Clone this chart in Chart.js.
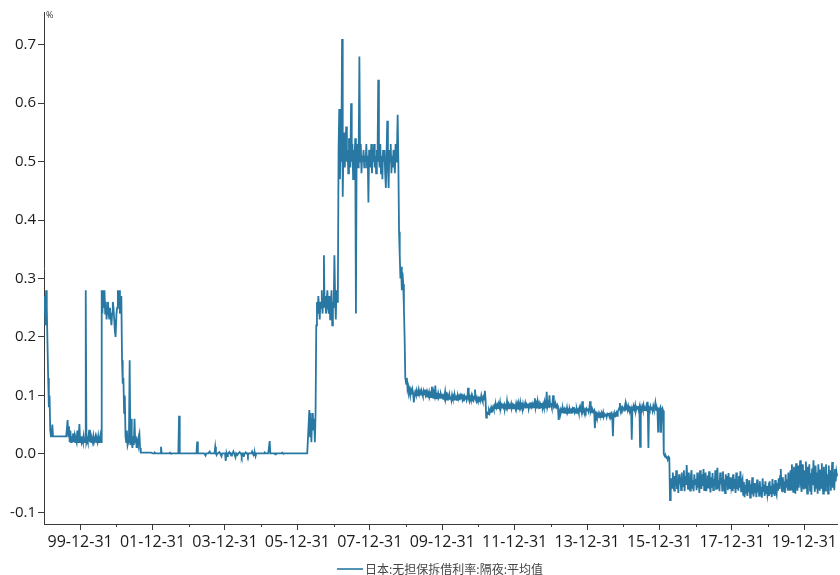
<!DOCTYPE html>
<html><head><meta charset="utf-8">
<script src="https://cdn.jsdelivr.net/npm/chart.js@4.4.1/dist/chart.umd.min.js"></script>
<style>html,body{margin:0;padding:0;background:#fff;}canvas{display:block;}</style>
</head><body>
<canvas id="c" width="840" height="575"></canvas>
<script>
const seriesLabel = '日本:无担保拆借利率:隔夜:平均值';
const unitLabel = '%';
// weekly observations, one array per calendar year (first value = first week of the year)
const rate1999 = [0.24,0.27,0.22,0.28,0.25,0.19,0.13,0.08,0.10,
 0.04,0.03,0.03,0.05,0.03,0.03,0.03,0.03,0.03,0.03,0.03,0.03,0.03,0.03,0.03,0.03,0.03,0.03,0.03,0.03,0.03,0.03,0.03,0.03,0.03,
 0.058,0.03,0.047,0.02,0.04,0.02,0.03,0.02,0.035,0.02,0.03,0.02,0.025,0.02,0.04,0.02,0.03,0.051];
const rate2000 = [0.02,0.03,0.02,0.025,0.02,0.03,0.02,0.02,0.28,
 0.02,0.025,0.02,0.03,0.041,0.02,0.03,0.02,0.025,0.02,0.03,0.02,0.02,0.03,0.02,0.025,0.02,0.03,0.02,0.02,0.03,0.02,
 0.28,0.24,0.28,0.25,0.28,0.24,0.26,0.23,0.25,0.26,0.24,0.23,0.25,0.25,0.22,0.24,0.26,0.25,0.23,0.21,0.20];
const rate2001 = [0.24,0.25,0.28,0.26,0.28,0.24,0.26,0.27,
 0.16,0.12,0.13,0.07,0.10,0.03,0.02,0.04,0.015,0.02,0.03,0.16,
 0.015,0.06,0.02,0.01,0.03,0.015,0.06,0.02,0.03,0.01,0.02,0.015,0.03,0.035,0.01,
 0.002,0.002,0.002,0.002,0.002,0.002,0.002,0.002,0.002,0.002,0.002,0.002,0.002,0.002,0.002,0.002,0.002];
const rate2002 = [0.001,0.001,0.001,0.002,0.001,0.001,0.001,0.001,0.001,0.001,0.001,0.001,0.012,0.001,0.001,0.001,0.001,0.001,0.001,0.001,
 0.001,0.001,0.001,0.001,0.001,0.002,0.001,0.001,0.001,0.001,0.001,0.001,0.001,0.001,0.001,0.001,0.001,0.001,0.065,0.001,
 0.001,0.001,0.001,0.001,0.001,0.001,0.001,0.001,0.001,0.001,0.001,0.001];
const rate2003 = [0.001,0.001,0.001,0.001,0.001,0.001,0.001,0.001,0.001,0.001,0.001,0.001,0.021,0.001,0.001,0.001,0.001,0.001,0.001,0.001,
 0.001,0.001,0.001,0.001,-0.003,0.001,0.001,0.001,0.001,0.001,0.004,0.001,0.001,0.001,0.001,0.001,0.001,0.001,0.012,0.001,
 -0.002,0.001,0.001,0.001,0.003,0.001,0.001,-0.004,0.001,0.001,0.001,0.001];
const rate2004 = [0.001,-0.012,0.001,-0.004,0.001,0.001,0.003,0.001,0.001,-0.003,0.001,0.001,0.004,0.001,0.001,-0.006,0.001,0.001,-0.002,0.001,
 0.001,0.003,0.001,0.001,-0.004,0.001,0.001,-0.005,0.001,0.001,0.002,0.001,0.001,-0.003,0.001,0.001,0.001,0.001,0.001,0.004,
 0.001,0.001,-0.002,0.001,-0.004,0.001,0.001,0.001,0.001,0.001,0.001,0.001];
const rate2005 = [0.001,0.001,0.001,0.001,0.001,0.002,0.001,0.001,0.001,0.001,0.001,0.001,0.022,0.001,0.001,0.001,0.001,0.001,0.001,0.001,
 -0.001,0.001,0.001,0.001,0.001,0.001,0.001,0.001,0.001,0.001,0.002,0.001,0.001,0.001,0.001,0.001,0.001,0.001,0.001,0.001,
 0.001,0.001,0.001,0.001,0.001,0.001,0.001,0.001,0.001,0.001,0.001,0.001];
const rate2006 = [0.001,0.001,0.001,0.001,0.001,0.001,0.001,0.001,0.001,0.001,0.001,0.001,0.001,0.001,0.001,0.001,
 0.05,0.075,0.03,0.07,0.02,0.06,0.07,0.04,0.06,0.02,0.07,
 0.22,0.26,0.24,0.27,0.25,0.23,0.26,0.25,0.28,0.24,0.26,0.34,0.25,0.27,0.24,0.26,0.28,0.25,0.24,0.27,0.23,0.25,0.28,0.22,0.26];
const rate2007 = [0.25,0.34,0.27,0.23,0.28,0.26,0.27,
 0.52,0.59,0.47,0.53,0.50,0.71,0.44,0.52,0.55,0.49,0.53,0.56,0.50,0.52,0.48,0.54,0.51,0.49,0.60,0.50,0.53,0.47,0.52,0.50,
 0.54,0.24,0.51,0.53,0.49,0.52,0.68,0.50,0.53,0.48,0.51,0.50,0.52,0.49,0.51,0.50,0.53,0.49,0.51,0.43,0.52];
const rate2008 = [0.51,0.49,0.53,0.48,0.52,0.50,0.53,0.49,0.51,0.48,0.52,0.50,0.64,0.51,0.49,0.53,0.48,0.51,0.47,0.52,
 0.50,0.52,0.48,0.455,0.51,0.57,0.49,0.455,0.52,0.50,0.53,0.48,0.51,0.49,0.52,0.51,0.48,0.53,0.50,0.52,0.58,0.50,
 0.38,0.34,0.30,0.32,0.28,0.31,0.29,0.25,0.20,0.13];
const rate2009 = [0.12,0.13,0.11,0.115,0.105,0.11,0.10,0.108,0.102,0.11,0.104,0.088,0.10,0.106,0.102,0.108,0.10,0.104,0.11,0.102,
 0.106,0.10,0.108,0.103,0.099,0.107,0.102,0.11,0.101,0.105,0.098,0.104,0.10,0.106,0.099,0.103,0.097,0.115,0.10,0.096,
 0.104,0.099,0.117,0.095,0.101,0.098,0.104,0.097,0.10,0.096,0.102,0.098];
const rate2010 = [0.1,0.094,0.103,0.097,0.106,0.095,0.1,0.093,0.099,0.096,0.102,0.094,0.098,0.092,0.101,0.096,0.099,0.093,0.1,0.095,
 0.097,0.091,0.1,0.094,0.098,0.092,0.099,0.095,0.103,0.093,0.097,0.09,0.098,0.094,0.1,0.092,0.096,0.113,0.094,0.09,
 0.097,0.093,0.099,0.091,0.096,0.092,0.098,0.11,0.093,0.09,0.096,0.092];
const rate2011 = [0.095,0.09,0.098,0.092,0.1,0.094,0.09,0.097,0.093,0.108,0.095,0.062,0.066,0.07,0.068,0.074,0.07,0.076,0.072,0.078,
 0.075,0.08,0.076,0.082,0.078,0.084,0.079,0.083,0.077,0.085,0.08,0.088,0.078,0.083,0.079,0.086,0.08,0.084,0.077,0.082,
 0.079,0.09,0.08,0.084,0.078,0.083,0.081,0.086,0.079,0.083,0.078,0.084];
const rate2012 = [0.083,0.078,0.086,0.08,0.085,0.077,0.084,0.079,0.088,0.08,0.083,0.076,0.085,0.079,0.082,0.087,0.078,0.084,0.08,0.086,
 0.077,0.083,0.079,0.088,0.081,0.085,0.078,0.084,0.08,0.095,0.079,0.085,0.078,0.09,0.082,0.086,0.077,0.084,0.08,0.087,
 0.078,0.085,0.08,0.088,0.079,0.083,0.106,0.08,0.085,0.079,0.1,0.082];
const rate2013 = [0.084,0.079,0.086,0.1,0.082,0.085,0.079,0.084,0.08,0.083,0.078,0.058,0.072,0.076,0.07,0.075,0.071,0.078,0.073,0.076,
 0.069,0.075,0.072,0.079,0.071,0.074,0.07,0.077,0.073,0.075,0.069,0.076,0.072,0.08,0.071,0.074,0.07,0.077,0.072,0.075,
 0.07,0.078,0.073,0.076,0.071,0.09,0.073,0.076,0.07,0.075,0.072,0.077];
const rate2014 = [0.074,0.078,0.072,0.076,0.09,0.073,0.077,0.071,0.075,0.072,0.074,0.044,0.066,0.069,0.064,0.068,0.065,0.07,0.066,0.068,
 0.063,0.069,0.066,0.071,0.064,0.067,0.065,0.069,0.063,0.068,0.066,0.07,0.064,0.068,0.065,0.069,0.066,0.03,0.067,0.064,
 0.069,0.066,0.07,0.065,0.072,0.075,0.078,0.087,0.074,0.079,0.076,0.08];
const rate2015 = [0.078,0.074,0.081,0.087,0.076,0.08,0.075,0.082,0.077,0.079,0.074,0.081,0.024,0.078,0.075,0.08,0.076,0.083,0.074,0.079,
 0.077,0.082,0.075,0.08,0.012,0.078,0.074,0.081,0.076,0.083,0.075,0.079,0.077,0.082,0.074,0.089,0.01,0.078,0.075,0.081,
 0.076,0.08,0.074,0.082,0.077,0.079,0.087,0.075,0.08,0.076,0.038,0.077];
const rate2016 = [0.076,0.079,0.036,0.075,0.078,0.074,
 0.0,-0.003,-0.005,-0.004,-0.007,-0.006,-0.008,-0.005,-0.007,-0.079,
 -0.064,-0.042,-0.058,-0.032,-0.05,-0.063,-0.038,-0.055,-0.028,-0.06,-0.043,-0.067,-0.035,-0.052,-0.04,-0.062,-0.032,-0.057,
 -0.046,-0.028,-0.064,-0.038,-0.053,-0.019,-0.045,-0.06,-0.032,-0.055,-0.063,-0.038,-0.028,-0.058,-0.045,-0.064,-0.035,-0.052];
const rate2017 = [-0.043,-0.062,-0.032,-0.058,-0.038,-0.067,-0.028,-0.052,-0.06,-0.035,-0.055,-0.026,-0.062,-0.043,-0.032,-0.064,-0.047,-0.037,-0.059,-0.03,
 -0.052,-0.066,-0.04,-0.058,-0.033,-0.062,-0.043,-0.055,-0.028,-0.06,-0.038,-0.024,-0.058,-0.045,-0.064,-0.032,-0.052,-0.041,-0.063,-0.03,
 -0.057,-0.044,-0.067,-0.035,-0.055,-0.038,-0.062,-0.033,-0.052,-0.06,-0.04,-0.057];
const rate2018 = [-0.048,-0.064,-0.035,-0.058,-0.043,-0.067,-0.032,-0.06,-0.046,-0.063,-0.038,-0.058,-0.03,-0.064,-0.048,-0.043,-0.07,-0.048,-0.074,-0.053,
 -0.068,-0.043,-0.072,-0.056,-0.065,-0.045,-0.075,-0.052,-0.069,-0.04,-0.062,-0.073,-0.05,-0.067,-0.055,-0.074,-0.044,-0.066,-0.052,-0.072,
 -0.047,-0.069,-0.057,-0.075,-0.042,-0.065,-0.053,-0.072,-0.047,-0.067,-0.055,-0.07];
const rate2019 = [-0.06,-0.072,-0.047,-0.069,-0.055,-0.074,-0.043,-0.067,-0.052,-0.072,-0.045,-0.065,-0.07,-0.05,-0.063,-0.042,-0.06,-0.038,-0.026,-0.058,
 -0.064,-0.04,-0.061,-0.047,-0.067,-0.035,-0.058,-0.044,-0.063,-0.032,-0.055,-0.063,-0.028,-0.061,-0.018,-0.053,-0.065,-0.022,-0.048,-0.068,
 -0.016,-0.043,-0.063,-0.02,-0.058,-0.033,-0.011,-0.053,-0.065,-0.018,-0.042,-0.061];
const rate2020 = [-0.028,-0.058,-0.013,-0.047,-0.068,-0.022,-0.053,-0.018,-0.063,-0.033,-0.07,-0.025,-0.053,-0.011,-0.048,-0.065,-0.02,-0.058,-0.032,-0.068,
 -0.018,-0.05,-0.063,-0.027,-0.058,-0.016,-0.053,-0.068,-0.022,-0.047,-0.063,-0.018,-0.055,-0.035,-0.068,-0.02,-0.053,-0.028,-0.063,-0.038,
 -0.014,-0.058,-0.032,-0.062,-0.026,-0.047,-0.03,-0.037,-0.033];

const years = [1999,2000,2001,2002,2003,2004,2005,2006,2007,2008,2009,2010,2011,2012,2013,2014,2015,2016,2017,2018,2019,2020];
const ratesByYear = [rate1999,rate2000,rate2001,rate2002,rate2003,rate2004,rate2005,rate2006,rate2007,rate2008,rate2009,
  rate2010,rate2011,rate2012,rate2013,rate2014,rate2015,rate2016,rate2017,rate2018,rate2019,rate2020];
const yTickValues = [-0.1,0,0.1,0.2,0.3,0.4,0.5,0.6,0.7];
const xTickYears = [1999,2000,2001,2002,2003,2004,2005,2006,2007,2008,2009,2010,2011,2012,2013,2014,2015,2016,2017,2018,2019];
const xLabelYears = [1999,2001,2003,2005,2007,2009,2011,2013,2015,2017,2019];

const DAY = 86400000;
function dayNum(y, m, d) { return Date.UTC(y, m - 1, d) / DAY; }
const points = [];
years.forEach((yr, k) => {
  ratesByYear[k].forEach((v, i) => points.push({ x: dayNum(yr, 1, 1) + i * 7, y: v }));
});
const tickLabel = {};
xTickYears.forEach(y => {
  tickLabel[dayNum(y, 12, 31)] = xLabelYears.includes(y) ? String(y % 100).padStart(2, '0') + '-12-31' : '';
});

const AXIS = '#3a3a3a';
const LINE = '#2878a3';

const extras = {
  id: 'extras',
  afterDraw(chart) {
    const ctx = chart.ctx, x = chart.scales.x, area = chart.chartArea;
    ctx.save();
    ctx.strokeStyle = AXIS; ctx.lineWidth = 1;
    xTickYears.filter(y => !xLabelYears.includes(y)).forEach(y => {
      const px = Math.round(x.getPixelForValue(dayNum(y, 12, 31))) + 0.5;
      ctx.beginPath(); ctx.moveTo(px, area.bottom); ctx.lineTo(px, area.bottom + 3); ctx.stroke();
    });
    ctx.fillStyle = '#333'; ctx.font = '9px "Open Sans"'; ctx.textBaseline = 'middle'; ctx.textAlign = 'left';
    ctx.fillText(unitLabel, area.left + 2, area.top + 3);
    const ly = 569;
    ctx.strokeStyle = LINE; ctx.lineWidth = 1.6;
    ctx.beginPath(); ctx.moveTo(337, ly); ctx.lineTo(363, ly); ctx.stroke();
    ctx.fillStyle = '#444'; ctx.font = '12px "Noto Sans CJK SC"';
    ctx.fillText(chart.data.datasets[0].label, 365, ly);
    ctx.restore();
  }
};

new Chart(document.getElementById('c'), {
  type: 'line',
  data: { datasets: [{ label: seriesLabel, data: points, borderColor: LINE, borderWidth: 1.8,
    pointRadius: 0, tension: 0, fill: false }] },
  options: {
    responsive: false, animation: false, devicePixelRatio: 1,
    layout: { padding: { top: 12, right: 1, left: 0, bottom: 0 } },
    plugins: { legend: { display: false }, tooltip: { enabled: false } },
    scales: {
      x: {
        type: 'linear', min: points[0].x, max: points[points.length - 1].x,
        afterBuildTicks: s => { s.ticks = xTickYears.map(y => ({ value: dayNum(y, 12, 31) })); },
        afterFit: s => { s.height = 51; },
        ticks: { autoSkip: false, maxRotation: 0, minRotation: 0, padding: 3, color: '#1a1a1a',
          font: { family: '"Open Sans"', size: 16 }, callback: v => tickLabel[v] },
        grid: { drawOnChartArea: false, drawTicks: true, tickLength: 6,
          tickColor: c => (c.tick && tickLabel[c.tick.value]) ? AXIS : 'rgba(0,0,0,0)' },
        border: { display: true, color: AXIS, width: 1 }
      },
      y: {
        min: -0.12, max: 0.756,
        afterBuildTicks: s => { s.ticks = yTickValues.map(v => ({ value: v })); },
        afterFit: s => { s.width = 44; },
        ticks: { padding: 2, color: '#1a1a1a', font: { family: '"Open Sans"', size: 15 },
          callback: v => Number(v).toFixed(1) },
        grid: { drawOnChartArea: false, drawTicks: true, tickLength: 6, tickColor: AXIS },
        border: { display: true, color: AXIS, width: 1 }
      }
    }
  },
  plugins: [extras]
});
</script>
</body></html>
